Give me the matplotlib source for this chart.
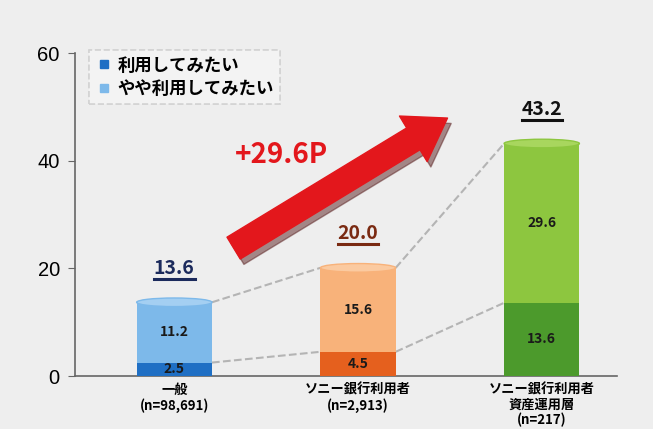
import matplotlib.pyplot as plt
from matplotlib.patches import FancyArrowPatch, Ellipse
from matplotlib.lines import Line2D
import numpy as np

plt.rcParams['font.family'] = ['Noto Sans CJK JP', 'DejaVu Sans']

groups = ['一般\n(n=98,691)', 'ソニー銀行利用者\n(n=2,913)', 'ソニー銀行利用者\n資産運用層\n(n=217)']
want = [2.5, 4.5, 13.6]          # 利用してみたい
maybe = [11.2, 15.6, 29.6]       # やや利用してみたい
totals = [13.6, 20.0, 43.2]
yticks = [0, 20, 40, 60]

dark_cols = ['#1f6fc4', '#e5601e', '#4c9a2c']
light_cols = ['#7db9ea', '#f8b27a', '#8dc63f']
cap_cols = ['#a4cff2', '#fbcaa0', '#a8d65e']
total_cols = ['#1b2a5c', '#7a2a12', '#111111']

fig = plt.figure(figsize=(6.53, 4.29), dpi=100)
fig.patch.set_facecolor('#eeeeee')
ax = fig.add_axes([0.115, 0.1235, 0.83, 0.7527])
ax.set_facecolor('none')

x = np.arange(len(groups))
w = 0.41
ax.bar(x, want, w, color=dark_cols, zorder=3)
ax.bar(x, maybe, w, bottom=want, color=light_cols, zorder=3)

for i in range(len(x)):
    top = want[i] + maybe[i]
    ax.add_patch(Ellipse((x[i], top), w, 1.6, facecolor=cap_cols[i],
                         edgecolor=light_cols[i], lw=1, zorder=3.5))
    ax.text(x[i], want[i] / 2, f'{want[i]:.1f}', ha='center', va='center',
            fontsize=10, fontweight='bold', color='#1a1a1a', zorder=4)
    ax.text(x[i], want[i] + maybe[i] / 2, f'{maybe[i]:.1f}', ha='center', va='center',
            fontsize=10, fontweight='bold', color='#1a1a1a', zorder=4)
    ax.text(x[i], top + 4.6, f'{totals[i]:.1f}', ha='center', va='bottom',
            fontsize=14, fontweight='bold', color=total_cols[i], zorder=4)
    ax.plot([x[i] - 0.11, x[i] + 0.11], [top + 4.4, top + 4.4], color=total_cols[i], lw=2.2, zorder=4)

# dashed connectors between bars
for i in range(len(x) - 1):
    ax.plot([x[i] + w / 2, x[i + 1] - w / 2], [want[i] + maybe[i], want[i + 1] + maybe[i + 1]],
            ls='--', color='#b4b4b4', lw=1.5, zorder=2)
    ax.plot([x[i] + w / 2, x[i + 1] - w / 2], [want[i], want[i + 1]],
            ls='--', color='#b4b4b4', lw=1.5, zorder=2)

# big red arrow
style = 'simple,head_width=2.4,head_length=1.8,tail_width=1.15'
shadow = FancyArrowPatch((0.33, 22.5), (1.52, 47.2), arrowstyle=style,
                         mutation_scale=16, color='#5a2020', alpha=0.5, zorder=4)
ax.add_patch(shadow)
arrow = FancyArrowPatch((0.31, 23.5), (1.5, 48.2), arrowstyle=style,
                        mutation_scale=16, color='#e3171c', zorder=5)
ax.add_patch(arrow)
ax.text(0.585, 41.0, '+29.6P', ha='center', va='center', fontsize=20,
        fontweight='bold', color='#e3171c', zorder=5)

ax.set_xlim(-0.54, 2.41)
ax.set_ylim(0, 60)
ax.set_yticks(yticks)
ax.set_yticklabels([str(t) for t in yticks], fontsize=14.5, family='Liberation Sans')
ax.set_xticks(x)
ax.set_xticklabels(groups, fontsize=9.5, fontweight='bold', linespacing=1.1)
ax.tick_params(axis='x', length=0, pad=5)
ax.tick_params(axis='y', length=5, color='#666666', pad=6)
for s in ['top', 'right']:
    ax.spines[s].set_visible(False)
for s in ['left', 'bottom']:
    ax.spines[s].set_color('#666666')
    ax.spines[s].set_linewidth(1.2)

handles = [Line2D([], [], ls='', marker='s', markersize=6, color=dark_cols[0]),
           Line2D([], [], ls='', marker='s', markersize=6, color=light_cols[0])]
leg = ax.legend(handles, ['利用してみたい', 'やや利用してみたい'], loc='upper left',
                bbox_to_anchor=(0.01, 1.035), prop={'size': 12.5, 'weight': 'bold'},
                handletextpad=0.3, handlelength=1.0, borderpad=0.35, labelspacing=0.3,
                fancybox=False, framealpha=0.3)
leg.get_frame().set_linestyle('--')
leg.get_frame().set_edgecolor('#888888')
leg.get_frame().set_linewidth(1.2)

fig.savefig('out.png', dpi=100, facecolor=fig.get_facecolor())
